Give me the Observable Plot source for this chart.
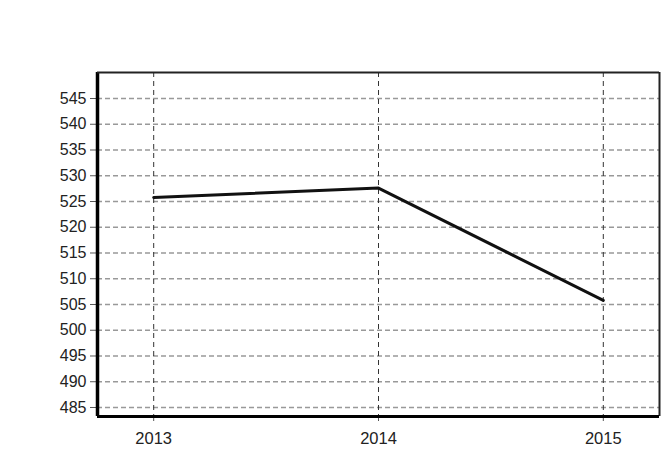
<!DOCTYPE html>
<html>
<head>
<meta charset="utf-8">
<script src="https://cdn.jsdelivr.net/npm/d3@7"></script>
<script src="https://cdn.jsdelivr.net/npm/@observablehq/plot@0.6"></script>
<style>
  html, body { margin: 0; padding: 0; background: #fff; }
  #chart svg { display: block; }
</style>
</head>
<body>
<div id="chart"></div>
<script>
const years = [2013, 2014, 2015];
const values = [525.8, 527.6, 505.8];
const yTicks = [485, 490, 495, 500, 505, 510, 515, 520, 525, 530, 535, 540, 545];
const xTicks = [2013, 2014, 2015];

const data = years.map((y, i) => ({year: y, value: values[i]}));
const xDomain = [2012.75, 2015.25];
const yDomain = [483.25, 550.05];

const chart = Plot.plot({
  width: 669,
  height: 459,
  marginLeft: 97,
  marginTop: 72,
  marginRight: 10,
  marginBottom: 43,
  style: {fontFamily: "Liberation Sans, Arial, sans-serif", fontSize: "16px", color: "#222", background: "#fff"},
  x: {domain: xDomain, ticks: xTicks, tickFormat: "d", label: null},
  y: {domain: yDomain, ticks: yTicks, label: null},
  marks: [
    Plot.ruleY(yTicks, {stroke: "#999", strokeWidth: 1.6, strokeDasharray: "5,3"}),
    Plot.ruleX(xTicks, {stroke: "#333", strokeWidth: 1, strokeDasharray: "5,4"}),
    Plot.axisY({ticks: yTicks, tickSize: 7, tickPadding: 4, stroke: "#555", fontSize: 16}),
    Plot.axisX({ticks: xTicks, tickFormat: "d", tickSize: 5, tickPadding: 11, stroke: "#555", fontSize: 16.5}),
    Plot.ruleX([xDomain[0]], {stroke: "#000", strokeWidth: 3.5}),
    Plot.ruleX([xDomain[1]], {stroke: "#222", strokeWidth: 2}),
    Plot.ruleY([yDomain[0]], {stroke: "#000", strokeWidth: 3}),
    Plot.ruleY([yDomain[1]], {stroke: "#222", strokeWidth: 2}),
    Plot.line(data, {x: "year", y: "value", stroke: "#111", strokeWidth: 3})
  ]
});
document.getElementById("chart").appendChild(chart);
</script>
</body>
</html>
